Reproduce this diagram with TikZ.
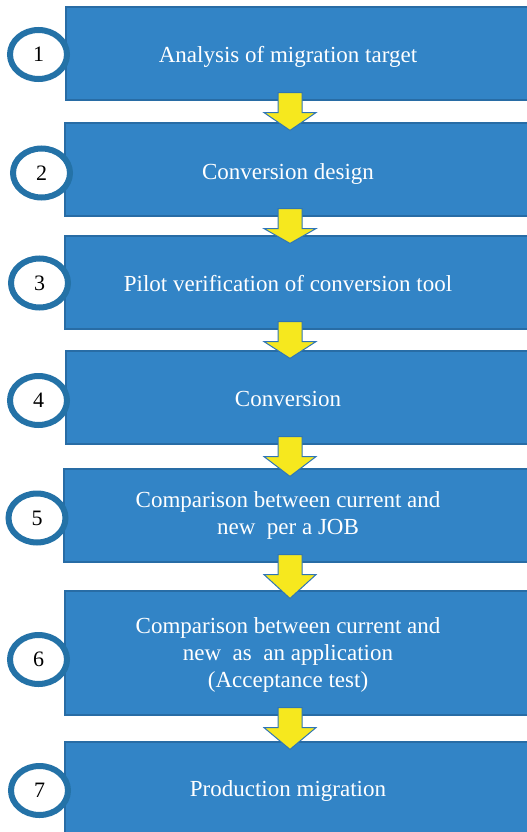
\documentclass[tikz,border=0pt]{standalone}
\usepackage{fontspec}
\setmainfont{Liberation Serif}
\usetikzlibrary{shapes.geometric,calc,fit}
\definecolor{boxfill}{RGB}{50,132,198}
\definecolor{boxline}{RGB}{40,108,165}
\definecolor{ringcol}{RGB}{36,114,167}
\definecolor{arrfill}{RGB}{246,232,30}
\definecolor{arrline}{RGB}{46,117,182}
\begin{document}
\begin{tikzpicture}[x=1pt,y=-1pt,
  stepbox/.style={draw=boxline, line width=1.2pt, fill=boxfill, inner sep=0pt},
  steptext/.style={text=white, font=\fontsize{23}{27}\selectfont, align=center, inner sep=0pt},
  ring/.style={ellipse, draw=ringcol, line width=6pt, fill=white, minimum width=57pt, minimum height=49pt, inner sep=0pt, font=\fontsize{22}{24}\selectfont},
  yarrow/.style={draw=arrline, line width=1pt, fill=arrfill, line join=miter}]
\useasboundingbox (0,0) rectangle (527,832);
% boxes
\node[stepbox, fit={(66,7) (529,100)}] (b1) {};
\node[stepbox, fit={(65,123) (529,216)}] (b2) {};
\node[stepbox, fit={(65,236) (529,329)}] (b3) {};
\node[stepbox, fit={(66,351) (529,444)}] (b4) {};
\node[stepbox, fit={(64,469) (529,562)}] (b5) {};
\node[stepbox, fit={(65,591) (529,715)}] (b6) {};
\node[stepbox, fit={(65,742) (529,840)}] (b7) {};
% arrows
\coordinate (ax) at (290,0);
\foreach \a/\b in {b1/b2,b2/b3,b3/b4,b4/b5,b5/b6,b6/b7}{
  \draw[yarrow] ($(ax |- \a.south)+(-12,-8)$) -- ($(ax |- \a.south)+(12,-8)$)
    -- ($(ax |- \a.south)+(12,12)$) -- ($(ax |- \a.south)+(26,12)$)
    -- ($(ax |- \b.north)+(0,8)$)
    -- ($(ax |- \a.south)+(-26,12)$) -- ($(ax |- \a.south)+(-12,12)$) -- cycle;
}
% texts
\node[steptext, anchor=base] (t1) at (288,63) {Analysis of migration target};
\node[steptext, anchor=base] (t2) at (288,179) {Conversion design};
\node[steptext, anchor=base] (t3) at (288,291) {Pilot verification of conversion tool};
\node[steptext, anchor=base] (t4) at (288,406) {Conversion};
\node[steptext] (t5) at (288,515) {Comparison between current and\\new\ \ per a JOB};
\node[steptext] (t6) at (288,655) {Comparison between current and\\new\ \ as\ \ an application\\(Acceptance test)};
\node[steptext, anchor=base] (t7) at (288,796) {Production migration};
% number rings
\node[ring] (c1) at (38.5,54.5) {1};
\node[ring] (c2) at (41.5,173) {2};
\node[ring] (c3) at (39.5,283) {3};
\node[ring] (c4) at (38.5,400.5) {4};
\node[ring] (c5) at (37,518) {5};
\node[ring] (c6) at (38.5,659.5) {6};
\node[ring] (c7) at (39.5,790.5) {7};
\end{tikzpicture}
\end{document}
